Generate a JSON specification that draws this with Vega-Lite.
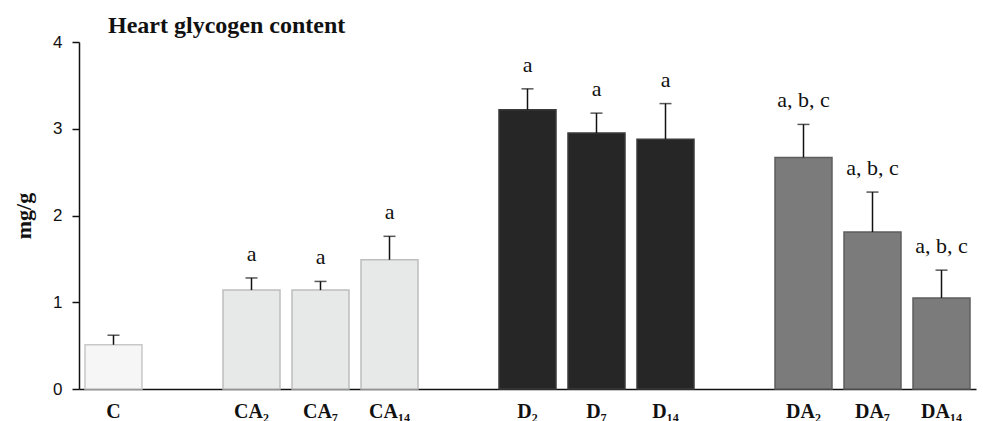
{
  "$schema": "https://vega.github.io/schema/vega-lite/v6.json",
  "width": 897,
  "height": 347,
  "autosize": {"type": "none"},
  "padding": {"left": 79, "top": 42, "right": 7, "bottom": 32},
  "background": "white",
  "title": {
    "text": "Heart glycogen content",
    "anchor": "start",
    "frame": "group",
    "dx": 29,
    "dy": 24,
    "offset": 0,
    "baseline": "alphabetic",
    "font": "Liberation Serif",
    "fontSize": 24,
    "fontWeight": "bold",
    "color": "#111111"
  },
  "config": {
    "view": {"stroke": null}
  },
  "data": {
    "values": [
      {"group": "Control", "label": "C", "mean": 0.51, "upper": 0.62, "sig": ""},
      {"group": "CA", "label": "CA₂", "mean": 1.14, "upper": 1.28, "sig": "a"},
      {"group": "CA", "label": "CA₇", "mean": 1.14, "upper": 1.24, "sig": "a"},
      {"group": "CA", "label": "CA₁₄", "mean": 1.49, "upper": 1.76, "sig": "a"},
      {"group": "D", "label": "D₂", "mean": 3.22, "upper": 3.46, "sig": "a"},
      {"group": "D", "label": "D₇", "mean": 2.95, "upper": 3.18, "sig": "a"},
      {"group": "D", "label": "D₁₄", "mean": 2.88, "upper": 3.29, "sig": "a"},
      {"group": "DA", "label": "DA₂", "mean": 2.67, "upper": 3.05, "sig": "a, b, c"},
      {"group": "DA", "label": "DA₇", "mean": 1.81, "upper": 2.27, "sig": "a, b, c"},
      {"group": "DA", "label": "DA₁₄", "mean": 1.05, "upper": 1.37, "sig": "a, b, c"}
    ]
  },
  "encoding": {
    "x": {
      "field": "label",
      "type": "nominal",
      "sort": null,
      "scale": {
        "domain": ["C", "gap1", "CA₂", "CA₇", "CA₁₄", "gap2", "D₂", "D₇", "D₁₄", "gap3", "DA₂", "DA₇", "DA₁₄"],
        "paddingInner": 0.174,
        "paddingOuter": 0.087
      },
      "axis": {
        "title": null,
        "labelAngle": 0,
        "ticks": false,
        "labelPadding": 12,
        "labelExpr": "indexof(datum.label, 'gap') == 0 ? '' : datum.label",
        "labelFont": "Liberation Serif",
        "labelFontWeight": "bold",
        "labelFontSize": 20,
        "labelColor": "#111111",
        "domainColor": "#111111",
        "domainWidth": 1.5,
        "labelBaseline": "top"
      }
    }
  },
  "layer": [
    {
      "mark": {"type": "bar", "strokeWidth": 1.5},
      "encoding": {
        "y": {
          "field": "mean",
          "type": "quantitative",
          "scale": {"domain": [0, 4], "nice": false},
          "axis": {
            "title": "mg/g",
            "titleFont": "Liberation Serif",
            "titleFontWeight": "bold",
            "titleFontSize": 22,
            "titleColor": "#111111",
            "titlePadding": 17,
            "values": [0, 1, 2, 3, 4],
            "format": "d",
            "grid": false,
            "tickSize": 7,
            "tickColor": "#111111",
            "tickWidth": 1.5,
            "domainColor": "#111111",
            "domainWidth": 1.5,
            "labelPadding": 10,
            "labelFont": "Liberation Sans",
            "labelFontSize": 17,
            "labelColor": "#111111"
          }
        },
        "fill": {
          "field": "group",
          "type": "nominal",
          "scale": {"domain": ["Control", "CA", "D", "DA"], "range": ["#f6f6f6", "#e7e8e8", "#262626", "#7b7b7b"]},
          "legend": null
        },
        "stroke": {
          "field": "group",
          "type": "nominal",
          "scale": {"domain": ["Control", "CA", "D", "DA"], "range": ["#c8c8c8", "#bdbdbd", "#3a3a3a", "#5e5e5e"]},
          "legend": null
        }
      }
    },
    {
      "mark": {"type": "rule", "color": "#111111", "strokeWidth": 1.5},
      "encoding": {
        "y": {"field": "mean", "type": "quantitative"},
        "y2": {"field": "upper"}
      }
    },
    {
      "mark": {"type": "tick", "color": "#111111", "thickness": 1.5, "size": 12},
      "encoding": {
        "y": {"field": "upper", "type": "quantitative"}
      }
    },
    {
      "mark": {"type": "text", "font": "Liberation Serif", "fontSize": 22, "color": "#111111", "baseline": "alphabetic", "dy": -17},
      "encoding": {
        "y": {"field": "upper", "type": "quantitative"},
        "text": {"field": "sig"}
      }
    }
  ]
}
